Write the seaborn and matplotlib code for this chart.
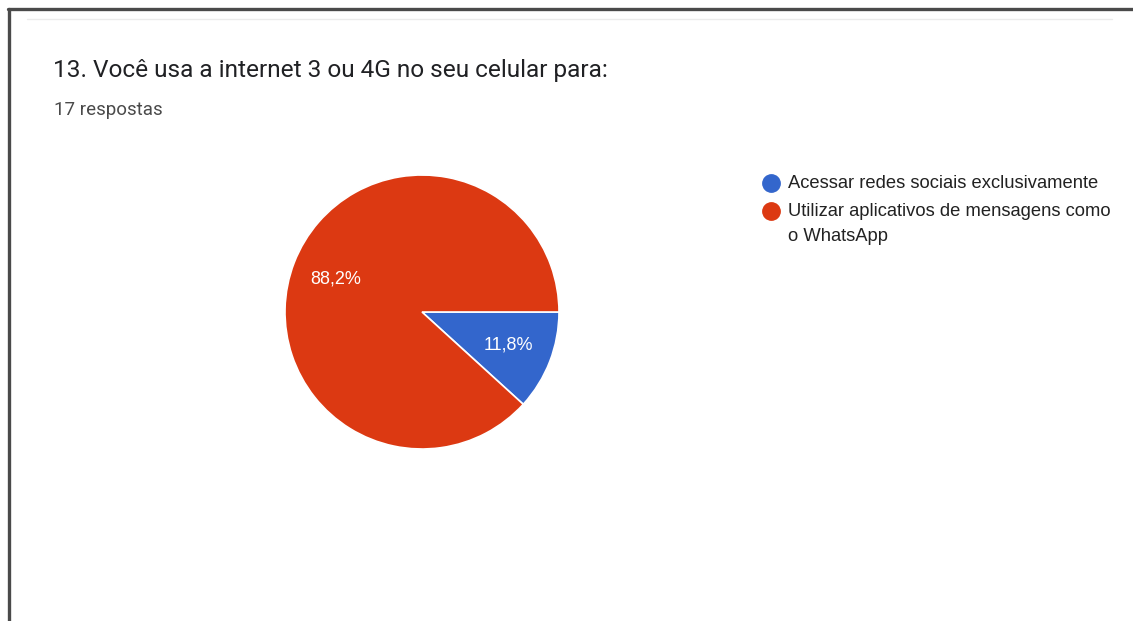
import matplotlib
matplotlib.use("Agg")
import matplotlib.pyplot as plt
from matplotlib.lines import Line2D
import numpy as np
import seaborn as sns

# Survey question 13: mobile data usage (17 answers)
categories = ["Acessar redes sociais exclusivamente",
              "Utilizar aplicativos de mensagens como\no WhatsApp"]
counts = [2, 15]
pct_labels = ["11,8%", "88,2%"]
colors = ["#3366CC", "#DC3912"]
title = "13. Você usa a internet 3 ou 4G no seu celular para:"
subtitle = "17 respostas"

sns.set_theme(style="white")
plt.rcParams["font.family"] = ["Roboto", "DejaVu Sans"]

W, H = 1133, 621
fig = plt.figure(figsize=(W / 100, H / 100), dpi=100)
fig.patch.set_facecolor("white")

def fx(px):
    return px / W

def fy(py):
    return 1 - py / H

# card frame: dark top and left edges, faint divider
fig.add_artist(Line2D([fx(8), 1], [fy(9), fy(9)], color="#4a4a4a", lw=2.4))
fig.add_artist(Line2D([fx(9), fx(9)], [fy(9), 0], color="#4a4a4a", lw=2.4))
fig.add_artist(Line2D([fx(27), fx(1112)], [fy(19), fy(19)], color="#ececec", lw=1))

fig.text(fx(53), fy(70), title, fontsize=17.6, color="#202124",
         va="center", ha="left", family=["Roboto", "DejaVu Sans"])
fig.text(fx(54), fy(110), subtitle, fontsize=13.5, color="#4a4a4a",
         va="center", ha="left", family=["Roboto", "DejaVu Sans"])

# pie
cx, cy, r = 422, 312, 137
ax = fig.add_axes([fx(cx - r), fy(cy + r), (2 * r) / W, (2 * r) / H])
wedges, _ = ax.pie(counts, colors=colors, startangle=0, counterclock=False,
                   radius=1, wedgeprops=dict(edgecolor="white", linewidth=1.2))
ax.set_xlim(-1, 1)
ax.set_ylim(-1, 1)
ax.set_aspect("equal")
ax.axis("off")

# percentage labels at the middle angle of each wedge
for w, lab in zip(wedges, pct_labels):
    ang = np.deg2rad((w.theta1 + w.theta2) / 2)
    ax.text(0.675 * np.cos(ang), 0.675 * np.sin(ang), lab, color="white",
            fontsize=13, ha="center", va="center",
            family=["Liberation Sans", "DejaVu Sans"])

# legend
ly = 183
for cat, col in zip(categories, colors):
    fig.add_artist(Line2D([fx(771)], [fy(ly)], marker="o", markersize=12.5,
                          color=col, linestyle="none"))
    lines = cat.split("\n")
    for i, line in enumerate(lines):
        fig.text(fx(788), fy(ly + i * 26), line, fontsize=13.2, color="#222222",
                 va="center", ha="left",
                 family=["Liberation Sans", "DejaVu Sans"])
    ly += 28

fig.savefig("out.png", dpi=100, facecolor="white")
